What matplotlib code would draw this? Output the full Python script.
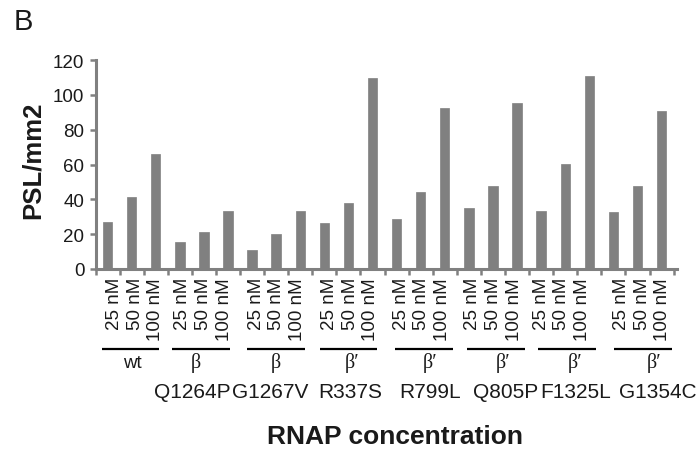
import matplotlib
matplotlib.use("Agg")
import matplotlib.pyplot as plt
import numpy as np

# ---- data ----
concentrations = ["25 nM", "50 nM", "100 nM"]
subunits = ["wt", "β", "β", "β′", "β′", "β′", "β′", "β′"]
mutations = ["", "Q1264P", "G1267V", "R337S", "R799L", "Q805P", "F1325L", "G1354C"]
psl_values = [27.2, 41.5, 65.8,
              15.5, 21.0, 33.5,
              11.0, 20.0, 33.5,
              26.2, 37.9, 109.6,
              28.9, 44.2, 92.6,
              35.2, 47.8, 95.3,
              33.5, 60.5, 110.6,
              32.5, 47.8, 90.7]
y_ticks = [0, 20, 40, 60, 80, 100, 120]

# ---- layout (not data) ----
label_shift = [0.28, 0.13, 0.17, 0.21, 0.19, 0.17, 0.0, 0.33]
label_step = 0.86
line_shift = [-0.05, -0.12, -0.01, 0.0, 0.13, 0.14, 0.07, 0.22]
sub_shift = [0.02, -0.35, -0.03, 0.15, 0.4, 0.43, 0.42, 0.67]
name_shift = [0.0, -0.49, -0.24, 0.08, 0.4, 0.51, 0.42, 0.86]
line_half = 1.2

GREY = "#808080"
TXT = "#1a1a1a"
sans = ["Liberation Sans", "DejaVu Sans"]
serif = ["Liberation Serif", "DejaVu Serif"]
plt.rcParams["font.family"] = sans

fig = plt.figure(figsize=(6.96, 4.52), dpi=100)
ax = fig.add_axes([95.5 / 696, 1 - 270 / 452, 581 / 696, 209 / 452])

n = len(psl_values)
x = np.arange(n)
ax.bar(x, psl_values, width=0.39, color=GREY, edgecolor=GREY, linewidth=0.5)

ax.set_xlim(-0.5, 23.62)
ax.set_ylim(0, 120)
ax.set_yticks(y_ticks)
ax.set_yticklabels([str(v) for v in y_ticks], fontsize=13.5, color=TXT)
ax.set_xticks(np.arange(-0.5, n, 1.0))
ax.set_xticklabels([])
for s in ["top", "right"]:
    ax.spines[s].set_visible(False)
for s in ["left", "bottom"]:
    ax.spines[s].set_color(GREY)
    ax.spines[s].set_linewidth(2.2)
ax.tick_params(axis="both", direction="out", length=4, width=1.8, color=GREY, pad=4)

xt = ax.get_xaxis_transform()
ngroups = len(subunits)
for g in range(ngroups):
    for j, c in enumerate(concentrations):
        ax.text(g * 3 + label_shift[g] + j * label_step, -0.038, c,
                rotation=90, ha="center", va="top", fontsize=13.5, color=TXT,
                transform=xt, clip_on=False)
    xc = g * 3 + 1 + line_shift[g]
    ax.plot([xc - line_half, xc + line_half], [-0.383, -0.383], color="black",
            lw=1.6, transform=xt, clip_on=False, solid_capstyle="butt")
    tc = g * 3 + 1 + sub_shift[g]
    if subunits[g] == "wt":
        ax.text(tc, -0.445, subunits[g], ha="center", va="center", fontsize=13.5,
                color=TXT, transform=xt, clip_on=False)
    else:
        ax.text(tc, -0.445, subunits[g], ha="center", va="center", fontsize=14.5,
                family=serif, color=TXT, transform=xt, clip_on=False)
    if mutations[g]:
        ax.text(g * 3 + 1 + name_shift[g], -0.584, mutations[g], ha="center",
                va="center", fontsize=15, color=TXT, transform=xt, clip_on=False)

fig.text(395 / 696, 1 - 437 / 452, "RNAP concentration", ha="center", va="center",
         fontsize=19, fontweight="bold", color=TXT)
fig.text(33 / 696, 1 - 160 / 452, "PSL/mm2", rotation=90, ha="center", va="center",
         fontsize=18.5, fontweight="bold", color=TXT)
fig.text(23 / 696, 1 - 22.5 / 452, "B", ha="center", va="center", fontsize=21, color=TXT)

fig.savefig("out.png", dpi=100, facecolor="white")
